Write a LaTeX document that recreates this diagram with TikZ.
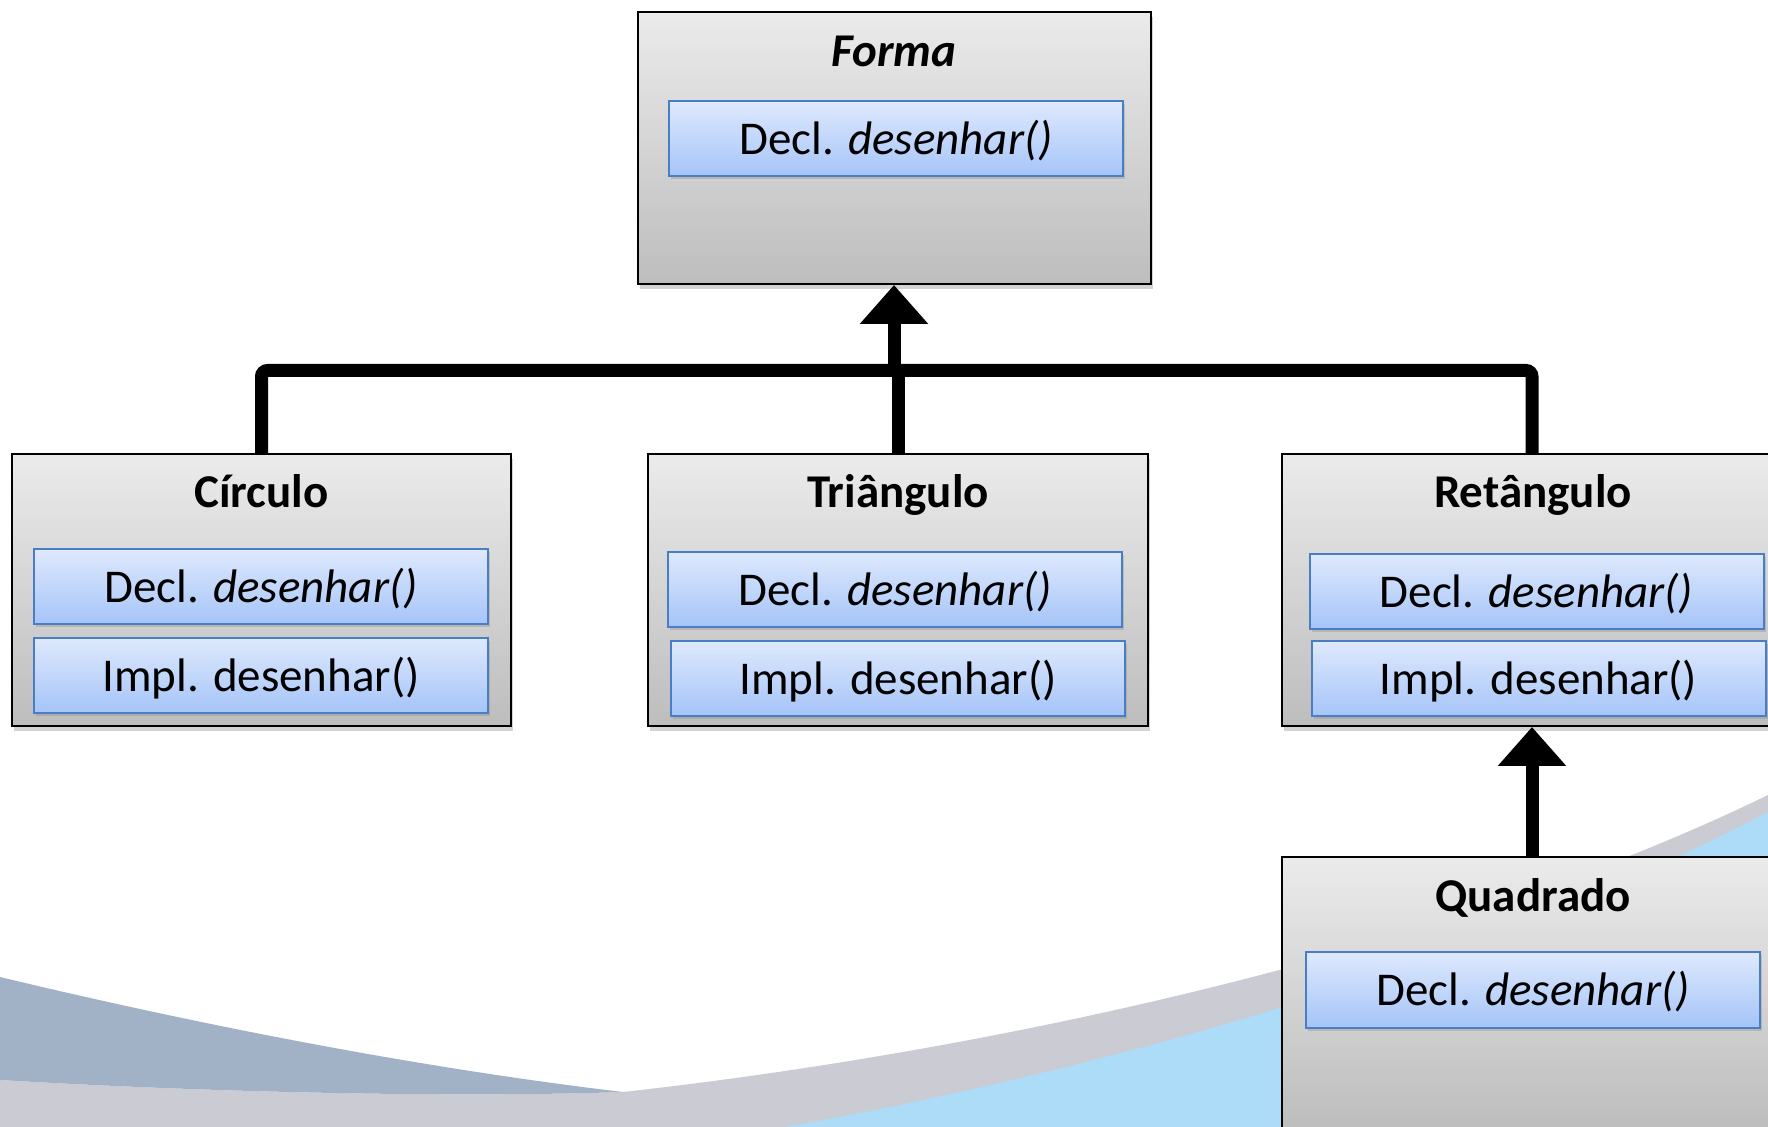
\documentclass[tikz,border=0pt]{standalone}
\usepackage{fontspec}
\setmainfont{Carlito}
\usetikzlibrary{arrows.meta,shadows}
\definecolor{bgdark}{HTML}{A2B2C6}
\definecolor{bggrey}{HTML}{CBCCD3}
\definecolor{bgblue}{HTML}{ACDCF7}
\definecolor{boxtop}{HTML}{EBEBEB}
\definecolor{boxbot}{HTML}{BDBDBD}
\definecolor{mtop}{HTML}{DEE9FD}
\definecolor{mbot}{HTML}{A5C4F8}
\definecolor{mborder}{HTML}{4A7EC4}
\tikzset{
  classbox/.style={draw=black, line width=1pt, top color=boxtop, bottom color=boxbot,
    drop shadow={opacity=0.35, shadow xshift=1pt, shadow yshift=-2.5pt},
    minimum width=250pt, minimum height=136pt, inner sep=0pt},
  methodbox/.style={draw=mborder, line width=1pt, top color=mtop, bottom color=mbot,
    drop shadow={opacity=0.3, shadow xshift=1pt, shadow yshift=-1.5pt},
    minimum width=227pt, minimum height=37.5pt, inner sep=0pt,
    text height=21pt, text depth=5pt, font=\fontsize{23.5}{28}\selectfont},
  titletext/.style={font=\fontsize{23.5}{28}\selectfont\bfseries, anchor=base, inner sep=0pt},
  titleital/.style={font=\fontsize{23.5}{28}\selectfont\bfseries\itshape, anchor=base, inner sep=0pt},
  link/.style={line width=6.5pt, rounded corners=3pt},
  inh/.style={line width=6.5pt, -{Triangle[length=19.5pt, width=33pt]}},
}
\begin{document}
\begin{tikzpicture}[x=0.5pt, y=-0.5pt]
\useasboundingbox (0,0) rectangle (1768,1127);
% background swoosh
\fill[bggrey] (0,1080) .. controls (200,1092) and (450,1098) .. (623,1092)
  .. controls (1000,1050) and (1450,950) .. (1768,795) -- (1768,1127) -- (0,1127) -- cycle;
\fill[bgblue] (786,1127) .. controls (1050,1080) and (1450,980) .. (1768,812) -- (1768,1127) -- cycle;
\fill[bgdark] (0,977) .. controls (200,1025) and (420,1068) .. (623,1092)
  .. controls (450,1098) and (200,1092) .. (0,1080) -- cycle;

% Forma
\node[classbox, minimum width=256.5pt] (forma) at (894,148) {};
\node[titleital] (formatitle) at (894,67) {Forma};
\node[methodbox] (formadecl) at (896,139) {Decl. \textit{desenhar()}};

% Circulo
\node[classbox, minimum width=249.5pt] (circulo) at (261.5,590) {};
\node[titletext] (circulotitle) at (261.5,508) {Círculo};
\node[methodbox] (circulodecl) at (261,587) {Decl. \textit{desenhar()}};
\node[methodbox] (circuloimpl) at (261,675.5) {Impl. desenhar()};

% Triangulo
\node[classbox] (triangulo) at (898,590) {};
\node[titletext] (triangulotitle) at (898,508) {Triângulo};
\node[methodbox] (triangulodecl) at (895,589.5) {Decl. \textit{desenhar()}};
\node[methodbox] (trianguloimpl) at (898,678.5) {Impl. desenhar()};

% Retangulo
\node[classbox] (retangulo) at (1532,590) {};
\node[titletext] (retangulotitle) at (1533,508) {Retângulo};
\node[methodbox] (retangulodecl) at (1536.5,591.5) {Decl. \textit{desenhar()}};
\node[methodbox] (retanguloimpl) at (1538.5,679) {Impl. desenhar()};

% Quadrado
\node[classbox] (quadrado) at (1532,993) {};
\node[titletext] (quadradotitle) at (1533,912) {Quadrado};
\node[methodbox] (quadradodecl) at (1533,990) {Decl. \textit{desenhar()}};

% connectors
\path (forma.south) ++(0,85.5) coordinate (j);
\draw[link] (circulo.north) |- (j) -| (retangulo.north);
\draw[link] (triangulo.north) -- (triangulo.north |- j);
\draw[inh] (j) -- (forma.south);
\draw[inh] (quadrado.north) -- (retangulo.south);
\end{tikzpicture}
\end{document}
